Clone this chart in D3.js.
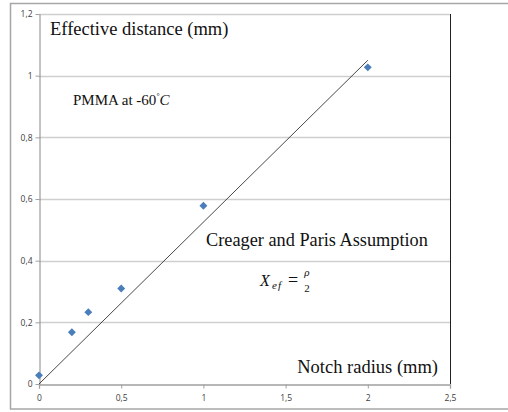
<!DOCTYPE html>
<html>
<head>
<meta charset="utf-8">
<script src="https://cdn.jsdelivr.net/npm/d3@7"></script>
<style>
  body { margin: 0; background: #fff; }
  .tick text { font-family: "Open Sans", "DejaVu Sans", sans-serif; font-size: 8.5px; fill: #404040; }
  .serif { font-family: "Liberation Serif", "Times New Roman", serif; fill: #111; }
</style>
</head>
<body>
<div id="chart"></div>
<script>
// Notch radius (mm) vs effective distance (mm), PMMA at -60 C
var radius = [0, 0.2, 0.3, 0.5, 1, 2];
var effDist = [0.028, 0.168, 0.233, 0.31, 0.578, 1.027];
// hand drawn Creager-Paris line
var lineX = [0, 2];
var lineY = [0, 1.05];
var xTicks = [0, 0.5, 1, 1.5, 2, 2.5];
var yTicks = [0, 0.2, 0.4, 0.6, 0.8, 1, 1.2];

var width = 508, height = 412;
var margin = { top: 14, right: 58, bottom: 28, left: 39 };

var svg = d3.select('#chart').append('svg')
  .attr('width', width)
  .attr('height', height);

// outer frame
svg.append('rect')
  .attr('x', 10.5).attr('y', 3.5)
  .attr('width', 520).attr('height', 405.5)
  .attr('fill', 'none')
  .attr('stroke', '#a6a6a6')
  .attr('stroke-width', 1.5);

var x = d3.scaleLinear().domain([0, 2.5]).range([margin.left, width - margin.right]);
var y = d3.scaleLinear().domain([0, 1.2]).range([height - margin.bottom, margin.top]);

var fmt = function (d) { return String(d).replace('.', ','); };

// horizontal grid
svg.append('g')
  .selectAll('line')
  .data(yTicks.filter(function (d) { return d > 0; }))
  .enter().append('line')
  .attr('x1', x(0)).attr('x2', x(2.5))
  .attr('y1', function (d) { return Math.round(y(d)) + 0.5; })
  .attr('y2', function (d) { return Math.round(y(d)) + 0.5; })
  .attr('stroke', '#cfcfcf')
  .attr('stroke-width', 1.3);

// right border of plot area
svg.append('line')
  .attr('x1', x(2.5) + 0.5).attr('x2', x(2.5) + 0.5)
  .attr('y1', y(1.2)).attr('y2', y(0))
  .attr('stroke', '#222')
  .attr('stroke-width', 1);

// x axis
var xAxis = svg.append('g')
  .attr('transform', 'translate(0,' + (Math.round(y(0)) + 0.5) + ')')
  .call(d3.axisBottom(x).tickValues(xTicks).tickFormat(fmt).tickSize(4).tickPadding(6));
xAxis.select('.domain').attr('stroke', '#a0a0a0').attr('stroke-width', 1.3);
xAxis.selectAll('.tick line').attr('stroke', '#a0a0a0');

// y axis
var yAxis = svg.append('g')
  .attr('transform', 'translate(' + (Math.round(x(0)) + 0.5) + ',0)')
  .call(d3.axisLeft(y).tickValues(yTicks).tickFormat(fmt).tickSize(4).tickPadding(3).tickSizeOuter(0));
yAxis.select('.domain').attr('stroke', '#888');
yAxis.selectAll('.tick line').attr('stroke', '#a0a0a0');

// Creager and Paris line
svg.append('line')
  .attr('x1', x(lineX[0])).attr('y1', y(lineY[0]))
  .attr('x2', x(lineX[1])).attr('y2', y(lineY[1]))
  .attr('stroke', '#333')
  .attr('stroke-width', 0.9);

// data markers
svg.append('g')
  .selectAll('path')
  .data(radius)
  .enter().append('path')
  .attr('d', d3.symbol().type(d3.symbolDiamond2).size(40))
  .attr('transform', function (d, i) { return 'translate(' + x(d) + ',' + y(effDist[i]) + ')'; })
  .attr('fill', '#4a7ebb');

// labels
svg.append('text').attr('class', 'serif')
  .attr('x', 50).attr('y', 35)
  .attr('font-size', 18.5)
  .text('Effective distance (mm)');

var pm = svg.append('text').attr('class', 'serif')
  .attr('x', 73).attr('y', 105)
  .attr('font-size', 15);
pm.append('tspan').text('PMMA at -60');
pm.append('tspan').attr('dy', -6).attr('font-size', 8).attr('font-style', 'italic').text('°');
pm.append('tspan').attr('dy', 6).attr('font-style', 'italic').text('C');

svg.append('text').attr('class', 'serif')
  .attr('x', 206).attr('y', 246)
  .attr('font-size', 18.3)
  .text('Creager and Paris Assumption');

svg.append('text').attr('class', 'serif')
  .attr('x', 260).attr('y', 286)
  .attr('font-size', 16).attr('font-style', 'italic')
  .text('X');
svg.append('text').attr('class', 'serif')
  .attr('x', 272).attr('y', 289)
  .attr('font-size', 11).attr('font-style', 'italic')
  .attr('letter-spacing', 1)
  .text('ef');
svg.append('text').attr('class', 'serif')
  .attr('x', 288).attr('y', 286)
  .attr('font-size', 18)
  .text('=');
svg.append('text').attr('class', 'serif')
  .attr('x', 307).attr('y', 276)
  .attr('font-size', 11).attr('font-style', 'italic')
  .attr('text-anchor', 'middle')
  .text('ρ');
svg.append('text').attr('class', 'serif')
  .attr('x', 307).attr('y', 292)
  .attr('font-size', 11)
  .attr('text-anchor', 'middle')
  .text('2');

svg.append('text').attr('class', 'serif')
  .attr('x', 438).attr('y', 373)
  .attr('font-size', 18.5)
  .attr('text-anchor', 'end')
  .text('Notch radius (mm)');
</script>
</body>
</html>
